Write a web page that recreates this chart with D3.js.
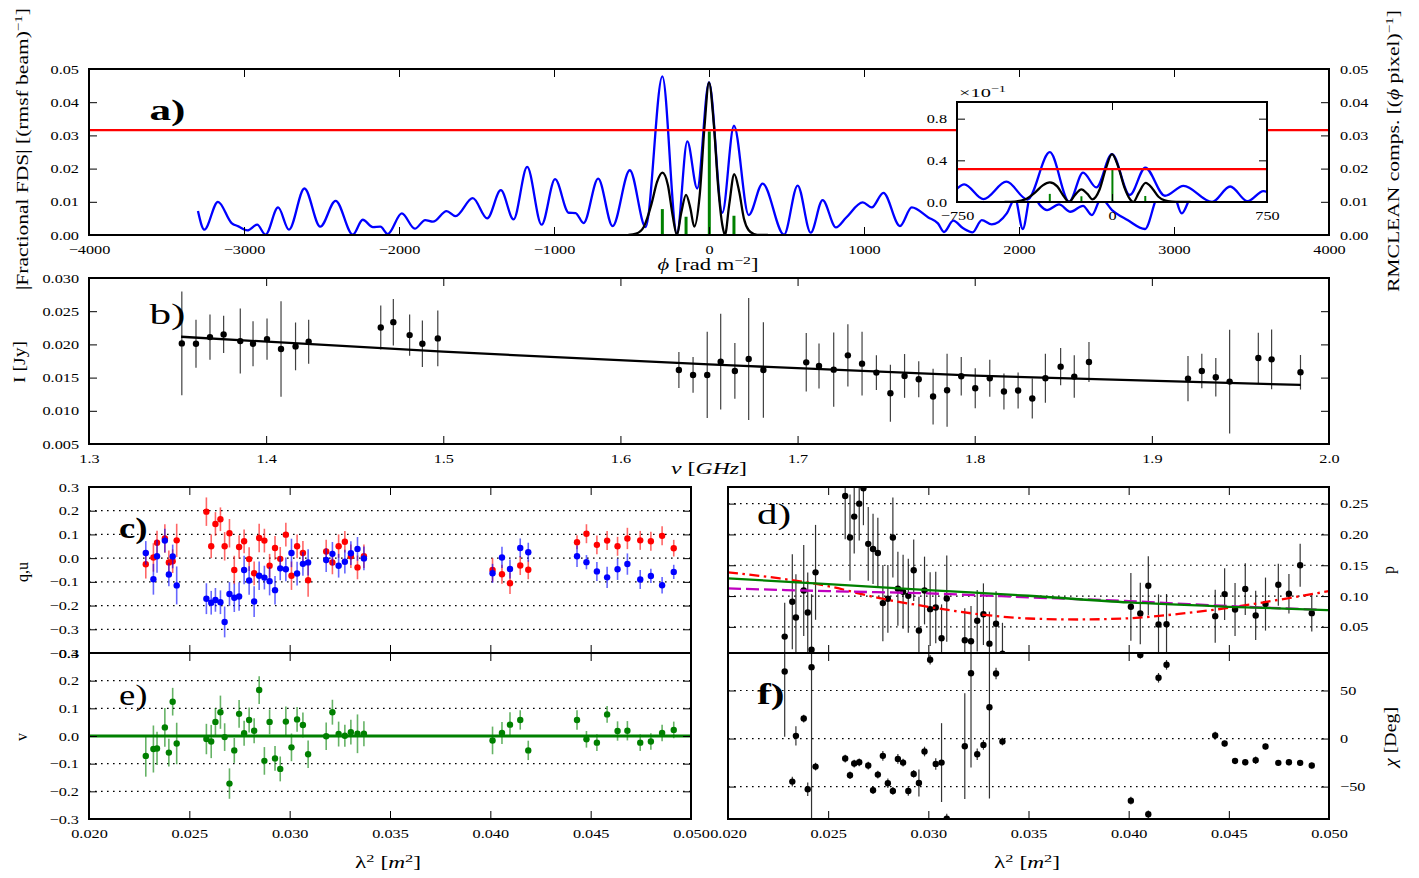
<!DOCTYPE html>
<html><head><meta charset="utf-8">
<script src="https://cdn.jsdelivr.net/npm/d3@7"></script>
<style>html,body{margin:0;padding:0;background:#fff}</style>
</head><body>
<svg id="fig" width="1419" height="878" xmlns="http://www.w3.org/2000/svg"></svg>
<script>
// ---------------- DATA ----------------
// a) Faraday dispersion (blue), RMCLEAN model (black), components (green), threshold (red)
const phiSamples = [-3297,-3256,-3168,-3080,-3036,-2978,-2915,-2861,-2780,-2710,-2610,-2508,-2409,-2298,-2234,-2169,-2120,-2073,-1982,-1898,-1831,-1781,-1693,-1635,-1524,-1431,-1343,-1261,-1173,-1080,-993,-905,-861,-809,-715,-622,-511,-409,-301,-207,-140,-76,0,86,161,256,346,484,572,656,733,819,884,992,1050,1125,1232,1308,1415,1477,1516,1576,1640,1700,1760,1824,1921,1975,2024,2080,2135,2181,2258,2332,2413,2470,2530,2600,2700,2813,2900,2990,3050,3120,3200,3260,3300];
const fdsSamples = [0.0072,0.0016,0.0100,0.0036,0.0026,0.0014,0.0031,0.0001,0.0083,0.0016,0.0140,0.0025,0.0103,0.0001,0.0046,0.0024,0.0025,0.0003,0.0065,0.0019,0.0045,0.0040,0.0072,0.0057,0.0111,0.0050,0.0135,0.0047,0.0205,0.0031,0.0168,0.0067,0.0066,0.0036,0.0170,0.0027,0.0195,0.0024,0.0478,0.0003,0.0282,0.0140,0.0460,0.0067,0.0329,0.0060,0.0155,0.0001,0.0149,0.0007,0.0105,0.0023,0.0052,0.0098,0.0083,0.0127,0.0027,0.0083,0.0053,0.0035,0.0009,0.0043,0.0020,0.0008,0.0045,0.0032,0.0065,0.0110,0.0018,0.0130,0.0090,0.0075,0.0092,0.0070,0.0088,0.0060,0.0110,0.0075,0.0045,0.0018,0.0120,0.0130,0.0065,0.0120,0.0102,0.0120,0.0110];
const modelPhi = [-520,-470,-420,-370,-335,-301,-265,-235,-207,-180,-148,-120,-95,-60,-30,0,30,60,86,103,130,163,195,225,255,290,330,380];
const modelFds = [0,0.0004,0.0025,0.0095,0.0160,0.0188,0.0150,0.0060,0.0,0.0065,0.0121,0.0080,0.0025,0.0120,0.0320,0.0460,0.0340,0.0140,0.0030,0.0,0.0090,0.0183,0.0130,0.0050,0.0015,0.0003,0.0,0];
const compPhi = [-301,-148,2,161];
const compAmp = [0.0078,0.0055,0.0312,0.0058];
const threshold = 0.0316;

// b) Stokes I spectrum
const freqGHz = [1.3524,1.3604,1.3683,1.3760,1.3854,1.3926,1.4005,1.4084,1.4166,1.4240,1.4647,1.4718,1.4810,1.4882,1.4969,1.6330,1.6410,1.6490,1.6566,1.6646,1.6724,1.6807,1.7049,1.7121,1.7204,1.7284,1.7364,1.7445,1.7524,1.7604,1.7684,1.7765,1.7844,1.7924,1.8003,1.8085,1.8165,1.8245,1.8325,1.8399,1.8485,1.8562,1.8645,1.9204,1.9282,1.9361,1.9439,1.9601,1.9676,1.9839];
const stokesI = [0.02015,0.0201,0.0211,0.0215,0.0205,0.0201,0.0208,0.0193,0.0197,0.0204,0.02255,0.02335,0.0214,0.0201,0.0209,0.01615,0.0154,0.0154,0.0174,0.0160,0.0178,0.01615,0.0173,0.01675,0.0162,0.01835,0.0171,0.01575,0.01265,0.01525,0.01475,0.01215,0.0131,0.0152,0.0134,0.0149,0.0129,0.01305,0.01185,0.0149,0.01665,0.01515,0.01735,0.01485,0.0160,0.01505,0.0144,0.01795,0.01775,0.0158];
const stokesIErr = [0.0078,0.0036,0.0034,0.0028,0.0049,0.0034,0.0031,0.0072,0.0036,0.0033,0.0033,0.0035,0.0031,0.0035,0.0042,0.0027,0.0027,0.0065,0.0072,0.0042,0.0092,0.0072,0.0044,0.0034,0.0056,0.0047,0.0048,0.0026,0.0043,0.0033,0.0027,0.0042,0.0055,0.0029,0.0030,0.0028,0.0027,0.0027,0.0030,0.0037,0.0028,0.0032,0.0030,0.0034,0.0026,0.0029,0.0078,0.0038,0.0045,0.0026];
const fitFreq = [1.352,1.5,1.65,1.8,1.984];
const fitI = [0.02115,0.0189,0.0170,0.0153,0.0139];

// c)-f) polarisation vs lambda^2
const lambda2 = [0.02283,0.02321,0.02339,0.02378,0.02398,0.02417,0.02437,0.02585,0.02609,0.02630,0.02655,0.02676,0.02700,0.02724,0.02748,0.02773,0.02798,0.02823,0.02848,0.02874,0.02900,0.02927,0.02953,0.02981,0.03009,0.03037,0.03066,0.03092,0.03182,0.03213,0.03244,0.03275,0.03305,0.03338,0.03370,0.04011,0.04058,0.04098,0.04149,0.04189,0.04432,0.04479,0.04531,0.04582,0.04634,0.04683,0.04747,0.04800,0.04856,0.04914];
const qFrac = [0.022,-0.089,0.008,0.074,-0.069,0.007,-0.115,-0.171,-0.188,-0.176,-0.186,-0.269,-0.151,-0.167,-0.162,-0.050,-0.094,-0.183,-0.074,-0.082,-0.097,-0.135,-0.043,-0.047,0.022,-0.065,-0.024,-0.018,-0.008,0.018,-0.032,-0.015,0.021,0.039,-0.001,-0.064,0.003,-0.046,0.043,0.025,0.008,-0.017,-0.056,-0.081,-0.047,-0.025,-0.090,-0.075,-0.114,-0.058];
const qErr = [0.05,0.065,0.07,0.05,0.05,0.05,0.08,0.065,0.05,0.05,0.05,0.065,0.05,0.06,0.06,0.06,0.06,0.065,0.06,0.05,0.06,0.06,0.05,0.05,0.06,0.05,0.05,0.055,0.05,0.05,0.05,0.05,0.05,0.05,0.05,0.04,0.045,0.04,0.04,0.04,0.045,0.03,0.04,0.045,0.045,0.045,0.04,0.03,0.035,0.03];
const uFrac = [-0.026,0.003,0.065,0.083,-0.018,-0.013,0.075,0.196,0.050,0.144,0.164,0.050,0.105,-0.050,0.047,0.071,-0.004,-0.064,0.085,0.074,-0.032,0.043,-0.003,0.099,-0.074,0.050,0.022,-0.093,0.028,-0.018,0.050,0.069,0.008,-0.039,0.008,-0.050,-0.068,-0.106,-0.031,-0.049,0.067,0.103,0.056,0.074,0.050,0.083,0.075,0.071,0.094,0.042];
const uErr = [0.06,0.06,0.05,0.06,0.05,0.05,0.07,0.06,0.05,0.05,0.05,0.06,0.06,0.06,0.05,0.05,0.05,0.05,0.06,0.05,0.05,0.05,0.05,0.05,0.06,0.05,0.05,0.07,0.05,0.05,0.05,0.045,0.05,0.05,0.05,0.05,0.04,0.045,0.04,0.04,0.03,0.04,0.04,0.04,0.04,0.045,0.04,0.04,0.04,0.035];
const vFrac = [-0.072,-0.047,-0.045,0.031,-0.060,0.124,-0.027,-0.011,-0.020,0.051,0.086,-0.004,-0.172,-0.052,0.080,0.010,0.058,0.019,0.166,-0.090,0.051,-0.081,-0.119,0.052,-0.041,0.060,0.040,-0.066,-0.001,0.086,0.007,0.001,0.014,0.008,0.008,-0.016,0.011,0.041,0.058,-0.052,0.058,-0.012,-0.024,0.078,0.018,0.019,-0.024,-0.020,0.011,0.022];
const vErr = [0.075,0.085,0.06,0.07,0.05,0.05,0.075,0.055,0.06,0.05,0.06,0.05,0.055,0.045,0.05,0.045,0.045,0.045,0.05,0.05,0.045,0.045,0.045,0.055,0.05,0.045,0.045,0.05,0.05,0.045,0.045,0.04,0.045,0.07,0.045,0.05,0.04,0.045,0.035,0.035,0.035,0.03,0.03,0.03,0.035,0.035,0.03,0.03,0.03,0.03];
const pFrac = [0.0342,0.0907,0.0652,0.109,0.0733,0.013,0.1385,0.2623,0.195,0.229,0.25,0.275,0.1847,0.1765,0.17,0.0886,0.0956,0.195,0.112,0.107,0.1005,0.1418,0.044,0.109,0.0788,0.0815,0.0315,0.096,0.0283,0.0267,0.06,0.0706,0.0228,0.055,0.0066,0.0826,0.0717,0.1168,0.0538,0.0543,0.0674,0.1032,0.0782,0.1114,0.0685,0.087,0.1184,0.1038,0.15,0.0723];
const pErr = [0.055,0.077,0.07,0.074,0.065,0.09,0.077,0.07,0.07,0.06,0.06,0.06,0.06,0.057,0.057,0.062,0.055,0.065,0.06,0.06,0.06,0.05,0.055,0.055,0.06,0.058,0.055,0.07,0.052,0.057,0.05,0.05,0.052,0.053,0.05,0.055,0.05,0.048,0.049,0.049,0.043,0.042,0.043,0.042,0.04,0.043,0.034,0.032,0.035,0.03];
const chiDeg = [69.8,-44.8,2.8,20.8,-52.8,74.3,-29.2,-20.8,-38.2,-26,-24.7,-88.5,-28.1,-53.8,-37.5,-18,-46.5,-54.5,-21.2,-25,-54.5,-36.8,-46.2,-13.5,82,-26.4,-25,-83.3,-8,68,-16.3,-6.6,32.6,67.7,-3.1,-64.6,87,-78.8,63.2,76.7,3.1,-5.2,-23.3,-24.7,-22.6,-8.3,-25.3,-24.7,-25.3,-28.1];
const chiErr = [68,5,10,4,7,180,4,4,4,4,4,3,4,4,4,5,5,4,5,4,5,4,14,5,5,6,41,5,55,98,6,5,95,6,4,4,4,4,5,5,4,3,3,3,4,3,3,3,3,3];
const pFitLam2 = [0.020,0.025,0.030,0.035,0.040,0.045,0.050];
const pFitSlab = [0.1287,0.1195,0.1097,0.1005,0.0896,0.0826,0.0772];
const pFitMagLam2 = [0.020,0.025,0.030,0.035,0.040,0.045,0.0495];
const pFitMag = [0.1124,0.108,0.1043,0.098,0.0918,0.0837,0.0778];
const pFitRedLam2 = [0.020,0.0225,0.025,0.0275,0.030,0.0325,0.035,0.0375,0.040,0.0425,0.045,0.0475,0.050];
const pFitRed = [0.1385,0.129,0.116,0.097,0.0826,0.0706,0.0636,0.062,0.064,0.071,0.081,0.094,0.108];

// ---------------- DRAWING ----------------
const FONT = '"Liberation Serif","DejaVu Serif",serif';
const TSX = 1.3;
const svg = d3.select('#fig');
svg.append('rect').attr('width',1419).attr('height',878).attr('fill','#fff');
const defs = svg.append('defs');
let clipN = 0;
function clipFor(box){
  const id = 'clip' + (clipN++);
  defs.append('clipPath').attr('id',id).append('rect')
    .attr('x',box.x0).attr('y',box.y0).attr('width',box.x1-box.x0).attr('height',box.y1-box.y0);
  return `url(#${id})`;
}
function styleAxis(a){
  a.attr('font-family',FONT).attr('font-size',12.5);
  a.select('.domain').remove();
  a.selectAll('.tick line').attr('stroke','#000').attr('stroke-width',1);
  a.selectAll('.tick text').attr('fill','#000').attr('transform',`scale(${TSX},1)`);
  return a;
}
const none = () => '';
function axes(g, box, x, y, o){
  styleAxis(g.append('g').attr('transform',`translate(0,${box.y1})`)
    .call(d3.axisBottom(x).tickValues(o.xTicks).tickSize(-8).tickPadding(o.xPad||10).tickFormat(o.xFmt||none)));
  styleAxis(g.append('g').attr('transform',`translate(0,${box.y0})`)
    .call(d3.axisTop(x).tickValues(o.xTicks).tickSize(-8).tickFormat(none)));
  styleAxis(g.append('g').attr('transform',`translate(${box.x0},0)`)
    .call(d3.axisLeft(y).tickValues(o.yTicks).tickSize(-8).tickPadding(o.lPad||7.7).tickFormat(o.yFmtL||none)));
  styleAxis(g.append('g').attr('transform',`translate(${box.x1},0)`)
    .call(d3.axisRight(y).tickValues(o.yTicks).tickSize(-8).tickPadding(8.5).tickFormat(o.yFmtR||none)));
}
function frame(g, box){
  g.append('rect').attr('x',box.x0).attr('y',box.y0).attr('width',box.x1-box.x0).attr('height',box.y1-box.y0)
    .attr('fill','none').attr('stroke','#000').attr('stroke-width',2);
}
function rich(g, x, y, parts, o={}){
  const size = o.size || 16;
  const t = g.append('text')
    .attr('transform',`translate(${x},${y})` + (o.rot ? ` rotate(${o.rot})` : ''))
    .attr('text-anchor',o.anchor||'middle').attr('font-family',FONT).attr('font-size',size).attr('fill','#000');
  if (o.weight) t.attr('font-weight',o.weight);
  let prevSup = false;
  parts.forEach(p => {
    const s = t.append('tspan').text(p.t);
    if (p.i) s.attr('font-style','italic');
    if (p.sup) { s.attr('font-size',size*0.7).attr('dy',-size*0.4); prevSup = true; }
    else if (prevSup) { s.attr('dy',size*0.4); prevSup = false; }
  });
  if (o.len) t.attr('textLength',o.len).attr('lengthAdjust','spacingAndGlyphs');
  return t;
}
function grid(g, box, y, vals){
  vals.forEach(v => g.append('line').attr('x1',box.x0).attr('x2',box.x1).attr('y1',y(v)).attr('y2',y(v))
    .attr('stroke','#000').attr('stroke-width',1.2).attr('stroke-dasharray','1.6,4.4'));
}
function errPoints(g, x, y, xs, vs, es, color, barOpacity, barW){
  const data = xs.map((d,i) => ({x:d, v:vs[i], e:es[i]}));
  g.append('g').selectAll('line').data(data).join('line')
    .attr('x1',d=>x(d.x)).attr('x2',d=>x(d.x)).attr('y1',d=>y(d.v-d.e)).attr('y2',d=>y(d.v+d.e))
    .attr('stroke',color).attr('stroke-opacity',barOpacity).attr('stroke-width',barW);
  g.append('g').selectAll('circle').data(data).join('circle')
    .attr('cx',d=>x(d.x)).attr('cy',d=>y(d.v)).attr('r',3.2).attr('fill',color);
}

// ---------- Panel a ----------
const A = {x0:89, x1:1329, y0:69, y1:235};
const xA = d3.scaleLinear().domain([-4000,4000]).range([A.x0,A.x1]);
const yA = d3.scaleLinear().domain([0,0.05]).range([A.y1,A.y0]);
const gA = svg.append('g');
const dA = gA.append('g').attr('clip-path',clipFor(A));
const fdsPts = phiSamples.map((p,i)=>[p,fdsSamples[i]]);
const modelPts = modelPhi.map((p,i)=>[p,modelFds[i]]);
function drawFDS(g, x, y, compW){
  const ln = d3.line().x(d=>x(d[0])).y(d=>y(d[1])).curve(d3.curveMonotoneX);
  g.append('path').attr('d',ln(fdsPts)).attr('fill','none').attr('stroke','#0000ff').attr('stroke-width',2.3);
  g.append('path').attr('d',ln(modelPts)).attr('fill','none').attr('stroke','#000').attr('stroke-width',2.3);
  g.append('g').selectAll('line').data(compPhi.map((p,i)=>[p,compAmp[i]])).join('line')
    .attr('x1',d=>x(d[0])).attr('x2',d=>x(d[0])).attr('y1',y(0)).attr('y2',d=>y(d[1]))
    .attr('stroke','#008000').attr('stroke-width',compW);
  g.append('line').attr('x1',x.range()[0]).attr('x2',x.range()[1]).attr('y1',y(threshold)).attr('y2',y(threshold))
    .attr('stroke','#ff0000').attr('stroke-width',2.3);
}
drawFDS(dA, xA, yA, 3);
axes(gA, A, xA, yA, {xTicks:d3.range(-4000,4001,1000), yTicks:[0,0.01,0.02,0.03,0.04,0.05],
  xFmt:d3.format('d'), yFmtL:d3.format('.2f'), yFmtR:d3.format('.2f')});
frame(gA, A);
rich(gA, 149.5, 120, [{t:'a)'}], {size:30, anchor:'start', weight:'bold', len:36});
rich(gA, 708, 270, [{t:'ϕ',i:true},{t:' [rad m'},{t:'−2',sup:true},{t:']'}], {len:101});
rich(gA, 28, 149, [{t:'|Fractional FDS| [(rmsf beam)'},{t:'−1',sup:true},{t:']'}], {rot:-90, len:282});
rich(gA, 1399, 151, [{t:'RMCLEAN comps. [('},{t:'ϕ',i:true},{t:' pixel)'},{t:'−1',sup:true},{t:']'}], {rot:-90, len:282});

// inset
const IN = {x0:957, x1:1267, y0:102, y1:202};
const xIn = d3.scaleLinear().domain([-750,750]).range([IN.x0,IN.x1]);
const yIn = d3.scaleLinear().domain([0,0.096]).range([IN.y1,IN.y0]);
const gIn = svg.append('g');
gIn.append('rect').attr('x',IN.x0).attr('y',IN.y0).attr('width',IN.x1-IN.x0).attr('height',IN.y1-IN.y0).attr('fill','#fff');
const dIn = gIn.append('g').attr('clip-path',clipFor(IN));
drawFDS(dIn, xIn, yIn, 2);
axes(gIn, IN, xIn, yIn, {xTicks:[-750,0,750], yTicks:[0,0.04,0.08], xPad:9,
  xFmt:d3.format('d'), yFmtL:d=>(d*10).toFixed(1)});
frame(gIn, IN);
rich(gIn, 959, 97, [{t:'×10'},{t:'−1',sup:true}], {size:13, anchor:'start', len:47});

// ---------- Panel b ----------
const B = {x0:89, x1:1329, y0:278, y1:444};
const xB = d3.scaleLinear().domain([1.3,2.0]).range([B.x0,B.x1]);
const yB = d3.scaleLinear().domain([0.005,0.030]).range([B.y1,B.y0]);
const gB = svg.append('g');
const dB = gB.append('g').attr('clip-path',clipFor(B));
errPoints(dB, xB, yB, freqGHz, stokesI, stokesIErr, '#000', 0.75, 1.2);
dB.append('path').attr('d', d3.line().x(d=>xB(d[0])).y(d=>yB(d[1])).curve(d3.curveMonotoneX)(fitFreq.map((f,i)=>[f,fitI[i]])))
  .attr('fill','none').attr('stroke','#000').attr('stroke-width',2.3);
axes(gB, B, xB, yB, {xTicks:d3.range(13,21).map(d=>d/10), yTicks:[0.005,0.010,0.015,0.020,0.025,0.030],
  xFmt:d3.format('.1f'), yFmtL:d3.format('.3f')});
frame(gB, B);
rich(gB, 149.5, 324, [{t:'b)'}], {size:30, anchor:'start', len:36});
rich(gB, 709, 474, [{t:'ν',i:true},{t:' ['},{t:'GHz',i:true},{t:']'}], {len:76});
rich(gB, 25, 362, [{t:'I [Jy]'}], {rot:-90, len:42});

// ---------- Panels c, e ----------
const lamTicks = [0.020,0.025,0.030,0.035,0.040,0.045,0.050];
const C = {x0:89, x1:691, y0:487, y1:653};
const xC = d3.scaleLinear().domain([0.020,0.050]).range([C.x0,C.x1]);
const yC = d3.scaleLinear().domain([-0.4,0.3]).range([C.y1,C.y0]);
const gC = svg.append('g');
const dC = gC.append('g').attr('clip-path',clipFor(C));
grid(dC, C, yC, [-0.3,-0.2,-0.1,0,0.1,0.2]);
errPoints(dC, xC, yC, lambda2, uFrac, uErr, '#ff0000', 0.6, 1.6);
errPoints(dC, xC, yC, lambda2, qFrac, qErr, '#0000ff', 0.6, 1.6);
axes(gC, C, xC, yC, {xTicks:lamTicks, yTicks:[-0.4,-0.3,-0.2,-0.1,0,0.1,0.2,0.3], yFmtL:d3.format('.1f')});
frame(gC, C);
rich(gC, 119, 538, [{t:'c)'}], {size:30, anchor:'start', weight:'bold', len:28.5});
rich(gC, 28, 572, [{t:'q,u'}], {rot:-90, len:20});

const E = {x0:89, x1:691, y0:653, y1:819};
const xE = d3.scaleLinear().domain([0.020,0.050]).range([E.x0,E.x1]);
const yE = d3.scaleLinear().domain([-0.3,0.3]).range([E.y1,E.y0]);
const gE = svg.append('g');
const dE = gE.append('g').attr('clip-path',clipFor(E));
grid(dE, E, yE, [-0.2,-0.1,0,0.1,0.2]);
errPoints(dE, xE, yE, lambda2, vFrac, vErr, '#008000', 0.6, 1.6);
dE.append('line').attr('x1',E.x0).attr('x2',E.x1).attr('y1',yE(0)).attr('y2',yE(0)).attr('stroke','#008000').attr('stroke-width',3.2);
axes(gE, E, xE, yE, {xTicks:lamTicks, yTicks:[-0.3,-0.2,-0.1,0,0.1,0.2,0.3], xFmt:d3.format('.3f'), yFmtL:d3.format('.1f')});
frame(gE, E);
rich(gE, 119, 705, [{t:'e)'}], {size:30, anchor:'start', len:28.5});
rich(gE, 27, 737, [{t:'v'}], {rot:-90});
rich(gE, 388, 868, [{t:'λ'},{t:'2',sup:true},{t:' ['},{t:'m',i:true},{t:'2',sup:true},{t:']'}], {len:66});

// ---------- Panels d, f ----------
const D = {x0:728, x1:1329, y0:487, y1:653};
const xD = d3.scaleLinear().domain([0.020,0.050]).range([D.x0,D.x1]);
const yD = d3.scaleLinear().domain([0.0076,0.277]).range([D.y1,D.y0]);
const gD = svg.append('g');
const dD = gD.append('g').attr('clip-path',clipFor(D));
grid(dD, D, yD, [0.05,0.10,0.15,0.20,0.25]);
errPoints(dD, xD, yD, lambda2, pFrac, pErr, '#000', 0.8, 1.2);
const lnD = d3.line().x(d=>xD(d[0])).y(d=>yD(d[1])).curve(d3.curveMonotoneX);
dD.append('path').attr('d',lnD(pFitRedLam2.map((l,i)=>[l,pFitRed[i]]))).attr('fill','none')
  .attr('stroke','#ff0000').attr('stroke-width',2.3).attr('stroke-dasharray','10,4.5,2.5,4.5');
dD.append('path').attr('d',lnD(pFitMagLam2.map((l,i)=>[l,pFitMag[i]]))).attr('fill','none')
  .attr('stroke','#bf00bf').attr('stroke-width',2.3).attr('stroke-dasharray','13,5');
dD.append('path').attr('d',lnD(pFitLam2.map((l,i)=>[l,pFitSlab[i]]))).attr('fill','none')
  .attr('stroke','#008000').attr('stroke-width',2.3);
axes(gD, D, xD, yD, {xTicks:lamTicks, yTicks:[0.05,0.10,0.15,0.20,0.25], yFmtR:d3.format('.2f')});
frame(gD, D);
rich(gD, 757, 524, [{t:'d)'}], {size:30, anchor:'start', len:34});
rich(gD, 1394, 570, [{t:'p'}], {rot:-90});

const F = {x0:728, x1:1329, y0:653, y1:819};
const xF = d3.scaleLinear().domain([0.020,0.050]).range([F.x0,F.x1]);
const yF = d3.scaleLinear().domain([-83.7,89]).range([F.y1,F.y0]);
const gF = svg.append('g');
const dF = gF.append('g').attr('clip-path',clipFor(F));
grid(dF, F, yF, [-50,0,50]);
errPoints(dF, xF, yF, lambda2, chiDeg, chiErr, '#000', 0.8, 1.2);
axes(gF, F, xF, yF, {xTicks:lamTicks, yTicks:[-50,0,50], xFmt:d3.format('.3f'), yFmtR:d3.format('d')});
frame(gF, F);
rich(gF, 757, 704, [{t:'f)'}], {size:30, anchor:'start', weight:'bold', len:27.5});
rich(gF, 1027, 868, [{t:'λ'},{t:'2',sup:true},{t:' ['},{t:'m',i:true},{t:'2',sup:true},{t:']'}], {len:66});
rich(gF, 1396, 737, [{t:'χ',i:true},{t:' [Deg]'}], {rot:-90, len:60});
</script>
</body></html>
